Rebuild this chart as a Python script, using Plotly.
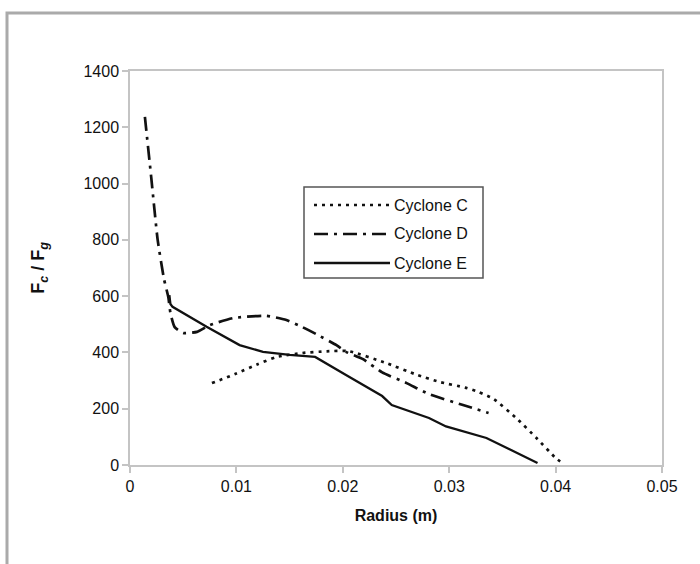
import plotly.graph_objects as go

# Cyclone C (dotted)
c_radius = [0.0077, 0.0100, 0.0120, 0.0138, 0.0162, 0.0185, 0.0205, 0.0241, 0.0270, 0.0291, 0.0315, 0.0328, 0.0342, 0.0363, 0.0382, 0.0400, 0.0408]
c_ratio = [291, 325, 358, 384, 398, 404, 405, 362, 320, 295, 275, 259, 234, 167, 96, 25, 2]

# Cyclone D (dash-dot)
d_radius = [0.0014, 0.0020, 0.0026, 0.0032, 0.0036, 0.0038, 0.0042, 0.0050, 0.0063, 0.0075, 0.0097, 0.0128, 0.0147, 0.0162, 0.0175, 0.0194, 0.0203, 0.0219, 0.0237, 0.0260, 0.0281, 0.0313, 0.0337]
d_ratio = [1237, 1020, 800, 660, 597, 540, 490, 469, 473, 497, 522, 530, 515, 490, 465, 426, 402, 376, 329, 291, 252, 213, 185]

# Cyclone E (solid)
e_radius = [0.0037, 0.0038, 0.0040, 0.0072, 0.0103, 0.0125, 0.0150, 0.0174, 0.0203, 0.0237, 0.0246, 0.0281, 0.0297, 0.0335, 0.0383]
e_ratio = [604, 572, 562, 491, 426, 402, 391, 384, 320, 245, 213, 167, 137, 96, 7]

series_names = ["Cyclone C", "Cyclone D", "Cyclone E"]

x_ticks = [0, 0.01, 0.02, 0.03, 0.04, 0.05]
x_tick_text = ["0", "0.01", "0.02", "0.03", "0.04", "0.05"]
y_ticks = [0, 200, 400, 600, 800, 1000, 1200, 1400]

ink = "#111111"
line_styles = [
    dict(color=ink, width=2.7, dash="3px,5px"),
    dict(color=ink, width=2.7, dash="14px,6px,3px,6px"),
    dict(color=ink, width=2.3),
]

fig = go.Figure()
fig.add_trace(go.Scatter(x=c_radius, y=c_ratio, mode="lines", name=series_names[0],
                         line=dict(**line_styles[0], shape="spline", smoothing=0.5)))
fig.add_trace(go.Scatter(x=d_radius, y=d_ratio, mode="lines", name=series_names[1],
                         line=dict(**line_styles[1], shape="spline", smoothing=0.5)))
fig.add_trace(go.Scatter(x=e_radius, y=e_ratio, mode="lines", name=series_names[2],
                         line=line_styles[2]))

W, H = 700, 564
l, r, t, b = 130, 38, 71, 99
pw, ph = W - l - r, H - t - b

def px_x(px):
    return (px - l) / pw

def px_y(py):
    return (H - b - py) / ph

fig.update_layout(
    width=W, height=H,
    margin=dict(l=l, r=r, t=t, b=b),
    paper_bgcolor="white", plot_bgcolor="white",
    font=dict(family="Liberation Sans, Arial, sans-serif", size=16, color="#111"),
    showlegend=False,
    xaxis=dict(
        range=[0, 0.05], tickvals=x_ticks, ticktext=x_tick_text,
        showgrid=False, zeroline=False, showline=True, linecolor="#c4c4c4", linewidth=1.5,
        mirror=True, ticks="outside", ticklen=6, tickcolor="#c4c4c4", tickwidth=1.5,
        tickfont=dict(size=16),
        title=dict(text="<b>Radius (m)</b>", font=dict(size=16), standoff=16),
    ),
    yaxis=dict(
        range=[0, 1400], tickvals=y_ticks,
        showgrid=False, zeroline=False, showline=True, linecolor="#c4c4c4", linewidth=1.5,
        mirror=True, ticks="outside", ticklen=6, tickcolor="#c4c4c4", tickwidth=1.5,
        tickfont=dict(size=16),
        title=dict(text="<b>F<sub><i>c</i></sub> / F<sub><i>g</i></sub></b>", font=dict(size=18), standoff=34),
    ),
)

# outer frame (partially cropped at right and bottom)
fig.add_shape(type="rect", xref="paper", yref="paper",
              x0=px_x(7), x1=px_x(720), y0=px_y(580), y1=px_y(13),
              line=dict(color="#aaaaaa", width=3), layer="below")

# legend box drawn by hand (long line samples like the reference)
fig.add_shape(type="rect", xref="paper", yref="paper",
              x0=px_x(304), x1=px_x(483), y0=px_y(278), y1=px_y(187),
              line=dict(color="#555555", width=1.5), fillcolor="white")
legend_rows = [205, 234, 263]
for name, style, py in zip(series_names, line_styles, legend_rows):
    fig.add_shape(type="line", xref="paper", yref="paper",
                  x0=px_x(314), x1=px_x(390), y0=px_y(py), y1=px_y(py), line=style)
    fig.add_annotation(xref="paper", yref="paper", x=px_x(392), y=px_y(py),
                       xanchor="left", yanchor="middle", text=name, showarrow=False,
                       font=dict(size=16, color="#111"))

fig.write_html("out.html", config={"displayModeBar": False},
               post_script="document.body.style.margin='0';document.body.style.padding='0';")
